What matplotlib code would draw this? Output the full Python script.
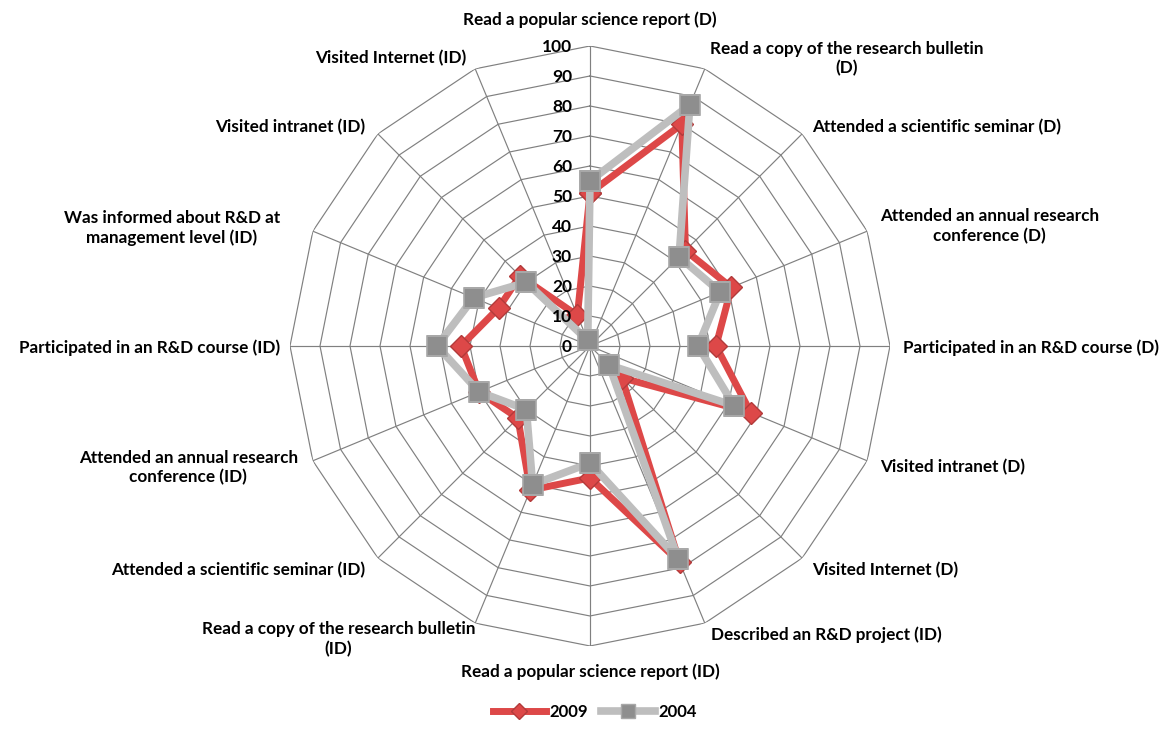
import numpy as np
import matplotlib
matplotlib.use('Agg')
import matplotlib.pyplot as plt
from matplotlib.lines import Line2D

# categories clockwise from the top
categories = ['Read a popular science report (D)',
              'Read a copy of the research bulletin\n(D)',
              'Attended a scientific seminar (D)',
              'Attended an annual research\nconference (D)',
              'Participated in an R&D course (D)',
              'Visited intranet (D)',
              'Visited Internet (D)',
              'Described an R&D project (ID)',
              'Read a popular science report (ID)',
              'Read a copy of the research bulletin\n(ID)',
              'Attended a scientific seminar (ID)',
              'Attended an annual research\nconference (ID)',
              'Participated in an R&D course (ID)',
              'Was informed about R&D at\nmanagement level (ID)',
              'Visited intranet (ID)',
              'Visited Internet (ID)']
y2009 = [51, 80, 45, 51, 42, 58, 15, 78, 44, 52, 34, 40, 43, 33, 33, 11]
y2004 = [55, 87, 42, 47, 36, 52, 9, 77, 39, 50, 30, 40, 51, 42, 30, 2]
ticks = [0, 10, 20, 30, 40, 50, 60, 70, 80, 90, 100]

plt.rcParams['font.family'] = ['Lato', 'DejaVu Sans']
plt.rcParams['font.weight'] = 'bold'

fig = plt.figure(figsize=(11.66, 7.31), dpi=100)
ax = fig.add_axes([0.2487, 0.1163, 0.5146, 0.8208], projection='polar')
ax.set_theta_zero_location('N')
ax.set_theta_direction(-1)
ax.set_ylim(0, 100)
ax.grid(False)
ax.spines['polar'].set_visible(False)
ax.set_xticks([])
ax.set_yticks([])
ax.patch.set_visible(False)

n = len(categories)
ang = np.arange(n) * 2 * np.pi / n
closed = np.append(ang, ang[0])

gc = '#808080'
for v in ticks[1:]:
    ax.plot(closed, [v] * (n + 1), color=gc, lw=0.85, zorder=1)
for a in ang:
    ax.plot([a, a], [0, 100], color=gc, lw=0.85, zorder=1)

red = '#DD4848'
ax.plot(closed, y2009 + y2009[:1], color=red, lw=5, marker='D', ms=11,
        mfc=red, mec='#B23A3A', mew=1, zorder=3)
ax.plot(closed, y2004 + y2004[:1], color='#BEBEBE', lw=5.5, marker='s', ms=14.5,
        mfc='#8E8E8E', mec='#A8A8A8', mew=1.2, zorder=4)

# radial value labels along the top spoke
for v in ticks:
    ax.annotate(str(v), xy=(0, v), xytext=(-18, -1), textcoords='offset pixels',
                ha='right', va='center', fontsize=12.5, fontweight='bold', zorder=5)

# label offsets (pixels) from the spoke end
offs = [(0, 26), (5, 10), (10, 7), (13, 5), (13, -2), (13, -6), (10, -12), (6, -12),
        (0, -26), (0, -16), (-13, -12), (-15, -7), (-10, -2), (-33, 3), (-13, 7), (-9, 11)]
for i, lab in enumerate(categories):
    dx, dy = offs[i]
    if dx > 0:
        ha = 'left'
    elif dx < 0:
        ha = 'right'
    else:
        ha = 'center'
    if i == 9:
        ha = 'right'
    ax.annotate(lab, xy=(ang[i], 100), xytext=(dx, dy), textcoords='offset pixels',
                ha=ha, va='center', multialignment='center', fontsize=12.3,
                fontweight='bold', annotation_clip=False, linespacing=1.25)

h1 = Line2D([], [], color=red, lw=5, marker='D', ms=8, mfc=red, mec='#B23A3A')
h2 = Line2D([], [], color='#BEBEBE', lw=5.5, marker='s', ms=10, mfc='#8E8E8E', mec='#A8A8A8')
fig.legend([h1, h2], ['2009', '2004'], loc='lower center', ncol=2, frameon=False,
           bbox_to_anchor=(0.51, -0.005), fontsize=12, handlelength=3.2,
           columnspacing=0.8, handletextpad=0.2)

plt.savefig('out.png', dpi=100)
